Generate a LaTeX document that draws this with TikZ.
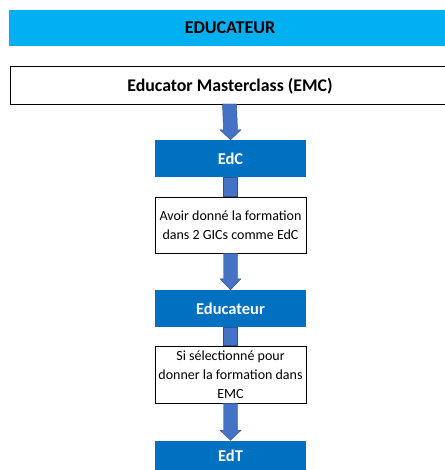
\documentclass[tikz,border=0pt]{standalone}
\usepackage{fontspec}
\setmainfont{Carlito}
\definecolor{cyanbar}{HTML}{00B0F0}
\definecolor{bluebox}{HTML}{0070C0}
\definecolor{arrowfill}{HTML}{4472C4}
\definecolor{arrowline}{HTML}{2F528F}
\tikzset{
  bluestep/.style={fill=bluebox, text=white, font=\bfseries\fontsize{16.5}{19}\selectfont, inner sep=0pt},
  textstep/.style={draw=black, line width=0.8pt, fill=white, align=center, font=\fontsize{14}{19}\selectfont, inner sep=0pt},
  shaft/.style={fill=arrowfill, draw=arrowline, line width=0.4pt},
}
\begin{document}
\begin{tikzpicture}[x=1pt,y=-1pt]
\useasboundingbox (0,0) rectangle (444,470);
% title bar
\fill[cyanbar] (9,10) rectangle (446,46);
\node[font=\bfseries\fontsize{18}{21}\selectfont] (title) at (230,28) {EDUCATEUR};
% EMC box
\draw[line width=0.9pt] (460,66) -- (10,66) -- (10,104) -- (460,104);
\draw[line width=1.6pt] (10.5,66) -- (10.5,104);
\node[font=\bfseries\fontsize{17.8}{21}\selectfont] (emc) at (230,86) {Educator Masterclass (EMC)};
\coordinate (emcb) at (229.5,104);
% boxes
\node[bluestep, minimum width=151pt, minimum height=37pt] (edc) at (230.5,158.5) {EdC};
\node[textstep, minimum width=151pt, minimum height=56pt] (t1) at (230.5,225) {Avoir donné la formation\\dans 2 GICs comme EdC};
\node[bluestep, minimum width=151pt, minimum height=37pt] (educ) at (230.5,308.5) {Educateur};
\node[textstep, minimum width=151pt, minimum height=57pt] (t2) at (230.5,374.5) {Si sélectionné pour\\donner la formation dans\\EMC};
\node[bluestep, minimum width=151pt, minimum height=31pt] (edt) at (230.5,456) {EdT};
% arrows
\draw[shaft] ([xshift=-7pt]emcb) -- ([xshift=7pt]emcb) -- ([xshift=7pt,yshift=10pt]edc.north) -- ([xshift=10.5pt,yshift=10pt]edc.north) -- (edc.north) -- ([xshift=-10.5pt,yshift=10pt]edc.north) -- ([xshift=-7pt,yshift=10pt]edc.north) -- cycle;
\draw[shaft] ([xshift=-7pt]edc.south) rectangle ([xshift=7pt]t1.north);
\draw[shaft] ([xshift=-7pt]t1.south) -- ([xshift=7pt]t1.south) -- ([xshift=7pt,yshift=11pt]educ.north) -- ([xshift=10.5pt,yshift=11pt]educ.north) -- (educ.north) -- ([xshift=-10.5pt,yshift=11pt]educ.north) -- ([xshift=-7pt,yshift=11pt]educ.north) -- cycle;
\draw[shaft] ([xshift=-7pt]educ.south) rectangle ([xshift=7pt]t2.north);
\draw[shaft] ([xshift=-7pt]t2.south) -- ([xshift=7pt]t2.south) -- ([xshift=7pt,yshift=10pt]edt.north) -- ([xshift=10.5pt,yshift=10pt]edt.north) -- (edt.north) -- ([xshift=-10.5pt,yshift=10pt]edt.north) -- ([xshift=-7pt,yshift=10pt]edt.north) -- cycle;
\end{tikzpicture}
\end{document}
